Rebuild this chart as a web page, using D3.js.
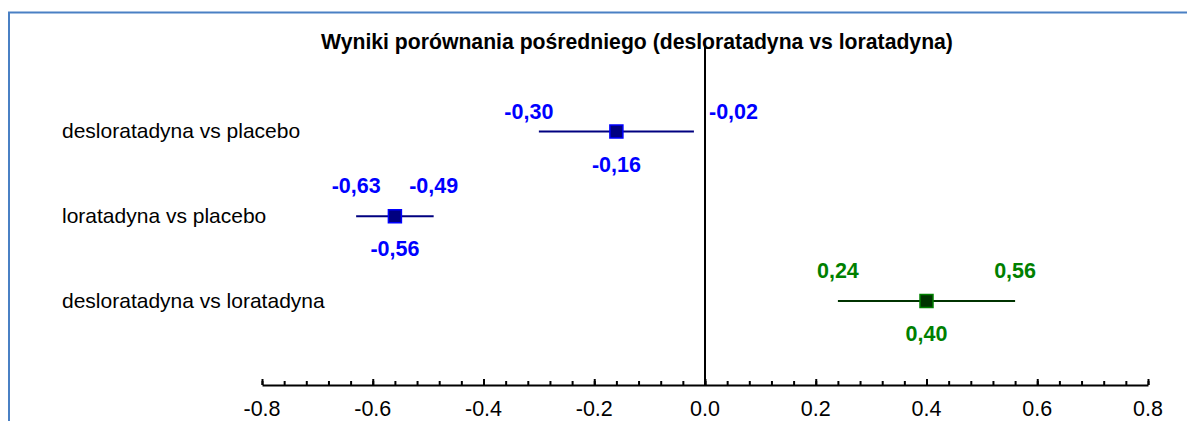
<!DOCTYPE html>
<html>
<head>
<meta charset="utf-8">
<script src="https://cdn.jsdelivr.net/npm/d3@7"></script>
<style>
  body { margin: 0; background: #fff; }
  svg { display: block; font-family: "Liberation Sans", Arial, sans-serif; }
</style>
</head>
<body>
<div id="chart"></div>
<script>
// data
const categories = ["desloratadyna vs placebo", "loratadyna vs placebo", "desloratadyna vs loratadyna"];
const estimates = [-0.16, -0.56, 0.40];
const lowerCI = [-0.30, -0.63, 0.24];
const upperCI = [-0.02, -0.49, 0.56];
const tickValues = [-0.8, -0.6, -0.4, -0.2, 0.0, 0.2, 0.4, 0.6, 0.8];
const title = "Wyniki porównania pośredniego (desloratadyna vs loratadyna)";

const w = 1187, h = 421;

const svg = d3.select("#chart")
  .append("svg")
  .attr("width", w)
  .attr("height", h);

// frame (only top and left edges are in view)
svg.append("path")
  .attr("d", `M9,${h} V12.5 H${w}`)
  .attr("fill", "none")
  .attr("stroke", "#4a80c4")
  .attr("stroke-width", 2);

const x = d3.scaleLinear().domain([-0.8, 0.8]).range([262, 1148]);
const y = d3.scalePoint().domain(categories).range([131.5, 301]);
const axisY = 385;

const fmtComma = (v) => d3.format(".2f")(v).replace("\u2212", "-").replace(".", ",");
const fmtTick = (v) => d3.format(".1f")(v).replace("\u2212", "-");

// title
svg.append("text")
  .attr("x", 637)
  .attr("y", 49)
  .attr("text-anchor", "middle")
  .style("font-weight", "bold")
  .style("font-size", "21.2px")
  .attr("fill", "#000")
  .text(title);

// zero line
svg.append("line")
  .attr("x1", x(0)).attr("x2", x(0))
  .attr("y1", 47).attr("y2", axisY)
  .attr("stroke", "#000")
  .attr("stroke-width", 2);

// x axis: major ticks every 0.2, minor every 0.04
const minorTicks = d3.range(0, 41).map((i) => -0.8 + i * 0.04);
const axisG = svg.append("g").attr("transform", `translate(0, ${axisY})`);
axisG.append("g")
  .call(d3.axisTop(x).tickValues(minorTicks).tickSize(4).tickFormat(""))
  .call((g) => g.select(".domain").remove())
  .selectAll("line").attr("stroke-width", 2);
axisG.append("g")
  .call(d3.axisTop(x).tickValues(tickValues).tickSize(6).tickSizeOuter(0).tickFormat(""))
  .call((g) => g.select(".domain").attr("stroke-width", 2))
  .selectAll("line").attr("stroke-width", 2);
axisG.selectAll(".tickLabel")
  .data(tickValues)
  .join("text")
  .attr("class", "tickLabel")
  .attr("x", (d) => x(d))
  .attr("y", 31)
  .attr("text-anchor", "middle")
  .style("font-size", "21.5px")
  .attr("fill", "#000")
  .text(fmtTick);

// row labels
svg.selectAll(".rowLabel")
  .data(categories)
  .join("text")
  .attr("class", "rowLabel")
  .attr("x", 62)
  .attr("y", (d) => y(d) + 6.5)
  .style("font-size", "21px")
  .attr("fill", "#000")
  .text((d) => d);

const rows = categories.map((c, i) => ({
  cat: c,
  est: estimates[i],
  lo: lowerCI[i],
  hi: upperCI[i],
}));

// vs placebo rows are blue, the indirect comparison is green
const styleFor = (cat) => cat.endsWith("placebo")
  ? { line: "#000080", fill: "#000080", stroke: "#0000ff", text: "#0000ff" }
  : { line: "#003300", fill: "#003300", stroke: "#008000", text: "#008000" };

// manual label nudges, as in the original
const nudges = {
  "desloratadyna vs placebo": { upDy: 10, loDx: -10 },
};

const g = svg.append("g").attr("class", "graphdata");

rows.forEach((r) => {
  const s = styleFor(r.cat);
  const cy = y(r.cat);
  const n = nudges[r.cat] || { upDy: 0, loDx: 0 };

  g.append("line")
    .attr("x1", x(r.lo)).attr("x2", x(r.hi))
    .attr("y1", cy).attr("y2", cy)
    .attr("stroke", s.line)
    .attr("stroke-width", 2);

  g.append("rect")
    .attr("x", x(r.est) - 6.5)
    .attr("y", cy - 6.5)
    .attr("width", 13)
    .attr("height", 13)
    .attr("fill", s.fill)
    .attr("stroke", s.stroke)
    .attr("stroke-width", 1.5);

  const lbl = (txt) => g.append("text")
    .style("font-weight", "bold")
    .style("font-size", "21.5px")
    .attr("fill", s.text)
    .text(txt);

  lbl(fmtComma(r.lo))
    .attr("x", x(r.lo) + n.loDx)
    .attr("y", cy - 23 + n.upDy)
    .attr("text-anchor", "middle");

  // keep the upper label clear of the zero line
  const hiX = x(r.hi);
  const nearZero = Math.abs(hiX - x(0)) < 30;
  lbl(fmtComma(r.hi))
    .attr("x", nearZero ? x(0) + 4 : hiX)
    .attr("y", cy - 23 + n.upDy)
    .attr("text-anchor", nearZero ? "start" : "middle");

  lbl(fmtComma(r.est))
    .attr("x", x(r.est))
    .attr("y", cy + 40)
    .attr("text-anchor", "middle");
});
</script>
</body>
</html>
